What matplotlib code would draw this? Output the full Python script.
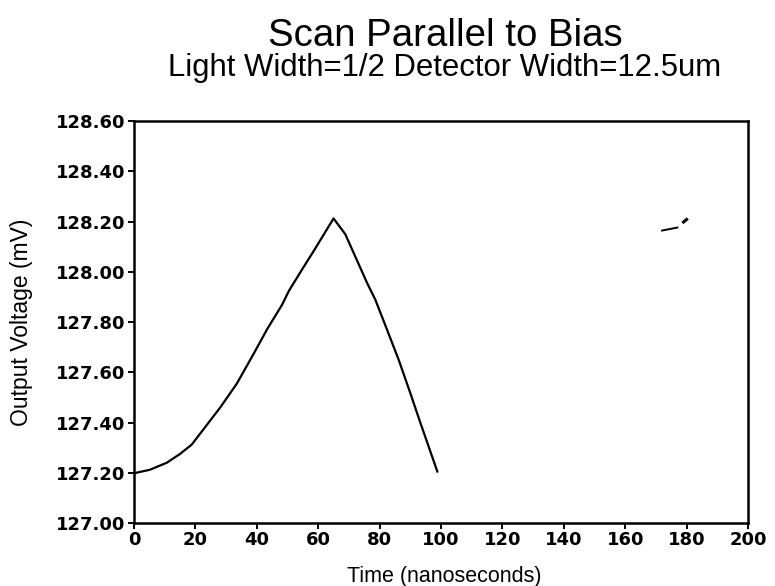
import matplotlib
matplotlib.use("Agg")
import matplotlib.pyplot as plt

# Data
time_ns = [0.0, 5.2, 10.7, 15.0, 18.8, 21.5, 28.1, 33.5, 38.9, 43.3, 48.2, 50.5, 55.2,
           58.5, 65.0, 68.8, 75.9, 78.6, 82.4, 86.2, 90.0, 93.3, 98.8]
voltage_mv = [127.198, 127.212, 127.240, 127.275, 127.312, 127.355, 127.460, 127.555,
              127.672, 127.770, 127.868, 127.925, 128.018, 128.082, 128.212,
              128.150, 127.956, 127.889, 127.770, 127.650, 127.517, 127.398,
              127.205]

# small stray marks in the scanned original
stray_x = [172.0, 174.5, 177.0]
stray_y = [128.164, 128.170, 128.176]
stray2_x = [179.0, 180.0]
stray2_y = [128.198, 128.208]

x_ticks = [0, 20, 40, 60, 80, 100, 120, 140, 160, 180, 200]
y_ticks = [127.00, 127.20, 127.40, 127.60, 127.80, 128.00, 128.20, 128.40, 128.60]

title = "Scan Parallel to Bias"
subtitle = "Light Width=1/2 Detector Width=12.5um"
xlabel = "Time (nanoseconds)"
ylabel = "Output Voltage (mV)"

fig = plt.figure(figsize=(7.75, 5.86), dpi=100)
ax = fig.add_axes([0.1729, 0.1075, 0.7923, 0.686])

ax.plot(time_ns, voltage_mv, color="black", linewidth=1.6)
ax.plot(stray_x, stray_y, color="black", linewidth=1.4)
ax.plot(stray2_x, stray2_y, color="black", linewidth=2.2)

ax.set_xlim(0, 200)
ax.set_ylim(127.0, 128.6)
ax.set_xticks(x_ticks)
ax.set_yticks(y_ticks)
ax.set_xticklabels([str(v) for v in x_ticks])
ax.set_yticklabels([f"{v:.2f}" for v in y_ticks])

for lab in ax.get_xticklabels() + ax.get_yticklabels():
    lab.set_fontfamily("DejaVu Sans")
    lab.set_fontweight("bold")
    lab.set_fontsize(13)

ax.tick_params(axis="both", direction="out", length=4, width=1.4, color="black")
ax.tick_params(axis="x", pad=2)
ax.tick_params(axis="y", pad=2)
for s in ax.spines.values():
    s.set_linewidth(1.8)
    s.set_color("black")

fig.text(0.574, 0.9215, title, ha="center", va="baseline",
         fontfamily="Liberation Sans", fontsize=27.6)
fig.text(0.574, 0.870, subtitle, ha="center", va="baseline",
         fontfamily="Liberation Sans", fontsize=22.4)
fig.text(0.573, 0.0154, xlabel, ha="center", va="center",
         fontfamily="Liberation Sans", fontsize=15.5)
fig.text(0.028, 0.450, ylabel, ha="center", va="center", rotation=90,
         fontfamily="Liberation Sans", fontsize=16.5)

fig.savefig("out.png", dpi=100)
